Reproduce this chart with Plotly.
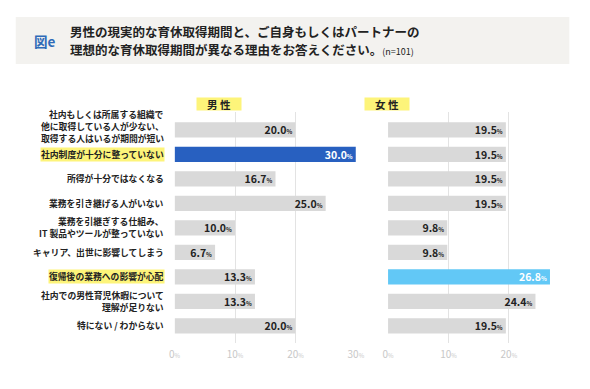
import plotly.graph_objects as go

categories = [
    "社内もしくは所属する組織で<br>他に取得している人が少ない、<br>取得する人はいるが期間が短い",
    "社内制度が十分に整っていない",
    "所得が十分ではなくなる",
    "業務を引き継げる人がいない",
    "業務を引継ぎする仕組み、<br>IT 製品やツールが整っていない",
    "キャリア、出世に影響してしまう",
    "復帰後の業務への影響が心配",
    "社内での男性育児休暇について<br>理解が足りない",
    "特にない / わからない",
]
highlight = [False, True, False, False, False, False, True, False, False]
male = [20.0, 30.0, 16.7, 25.0, 10.0, 6.7, 13.3, 13.3, 20.0]
female = [19.5, 19.5, 19.5, 19.5, 9.8, 9.8, 26.8, 24.4, 19.5]
tick_vals = [0, 10, 20, 30]

GRAY = "#d9d9d9"
male_colors = ["#2860c0" if i == 1 else GRAY for i in range(len(male))]
female_colors = ["#62c8f6" if i == 6 else GRAY for i in range(len(female))]
male_txt = ["#ffffff" if i == 1 else "#222222" for i in range(len(male))]
female_txt = ["#ffffff" if i == 6 else "#222222" for i in range(len(female))]

FONT = "Noto Sans CJK JP"
W, H = 590, 389
ROW_PX = 24.5
ys = list(range(len(categories)))

tmpl = "<b>%{x:.1f}</b><span style='font-size:6px'><b>%</b></span>"

fig = go.Figure()
fig.add_trace(go.Bar(
    x=male, y=ys, orientation="h", marker=dict(color=male_colors, line_width=0),
    width=0.62, texttemplate=tmpl, textposition="inside", insidetextanchor="end",
    insidetextfont=dict(color=male_txt, size=10.5, family=FONT), constraintext="none",
    xaxis="x", yaxis="y", hoverinfo="skip", showlegend=False))
fig.add_trace(go.Bar(
    x=female, y=ys, orientation="h", marker=dict(color=female_colors, line_width=0),
    width=0.62, texttemplate=tmpl, textposition="inside", insidetextanchor="end",
    insidetextfont=dict(color=female_txt, size=10.5, family=FONT), constraintext="none",
    xaxis="x2", yaxis="y2", hoverinfo="skip", showlegend=False))

def ticktexts(vals):
    return [f"{v}<span style='font-size:6px'>%</span>" for v in vals]

ydom = [1 - 343 / H, 1 - 112 / H]
yrange = [8.7, -0.73]
common_x = dict(showgrid=True, gridcolor="#e3e3e3", gridwidth=1, zeroline=False,
                showline=False, ticks="", tickfont=dict(color="#c8c8c8", size=10, family=FONT),
                fixedrange=True)
fig.update_layout(
    width=W, height=H, margin=dict(l=0, r=0, t=0, b=0),
    paper_bgcolor="white", plot_bgcolor="white",
    font=dict(family=FONT),
    xaxis=dict(domain=[173 / W, 359 / W], range=[0, 30], tickvals=tick_vals,
               ticktext=ticktexts(tick_vals), **common_x),
    xaxis2=dict(domain=[392 / W, 392 / W + 27 * 6.2 / W], range=[0, 27], tickvals=tick_vals[:3],
                ticktext=ticktexts(tick_vals[:3]), **common_x),
    yaxis=dict(domain=ydom, range=yrange, showticklabels=False, showgrid=False, zeroline=False,
               fixedrange=True),
    yaxis2=dict(domain=ydom, range=yrange, showticklabels=False, showgrid=False, zeroline=False,
                anchor="x2", fixedrange=True),
)
fig.update_xaxes(ticklabelstandoff=4)

# title box
fig.add_shape(type="rect", xref="paper", yref="paper", x0=10 / W, x1=578 / W,
              y0=1 - 64 / H, y1=1 - 17 / H, fillcolor="#f3f2ef", line_width=0, layer="below")
fig.add_annotation(xref="paper", yref="paper", x=27 / W, y=1 - 41 / H, xanchor="left",
                   yanchor="middle", showarrow=False,
                   text="<b>図e</b>", font=dict(color="#2f6bb8", size=13.5, family=FONT))
fig.add_annotation(xref="paper", yref="paper", x=64 / W, y=1 - 31 / H, xanchor="left",
                   yanchor="middle", showarrow=False, align="left",
                   text="<b>男性の現実的な育休取得期間と、ご自身もしくはパートナーの</b>",
                   font=dict(color="#222222", size=12.5, family=FONT))
fig.add_annotation(xref="paper", yref="paper", x=64 / W, y=1 - 50 / H, xanchor="left",
                   yanchor="middle", showarrow=False, align="left",
                   text="<b>理想的な育休取得期間が異なる理由をお答えください。</b>"
                        "<span style='font-size:9px'>(n=101)</span>",
                   font=dict(color="#222222", size=12.5, family=FONT))

# panel headers
for xc, t in [(195, "男 性"), (414.5, "女 性")]:
    fig.add_annotation(xref="paper", yref="paper", x=xc / W, y=1 - 97 / H, showarrow=False,
                       text=f"<b>{t}</b>", font=dict(size=10.5, color="#222222", family=FONT),
                       bgcolor="#fdf47a", width=44, height=12, borderpad=0)

# category labels, one annotation per line for tight line spacing
LINE_PX = 12.2
for i, (c, hl) in enumerate(zip(categories, highlight)):
    lines = c.split("<br>")
    n = len(lines)
    shift = -3.5 if n == 3 else 0.0
    for k, ln in enumerate(lines):
        off_px = (k - (n - 1) / 2) * LINE_PX + shift
        fig.add_annotation(xref="paper", yref="y", x=163 / W, y=i + off_px / ROW_PX,
                           xanchor="right", yanchor="middle", showarrow=False, align="right",
                           text=f"<b>{ln}</b>",
                           font=dict(size=8.8, color="#222222", family=FONT),
                           bgcolor="#fdf47a" if hl else None, borderpad=0)

fig.write_html("out.html", config={"displayModeBar": False, "staticPlot": True},
               post_script="document.body.style.margin='0';")
